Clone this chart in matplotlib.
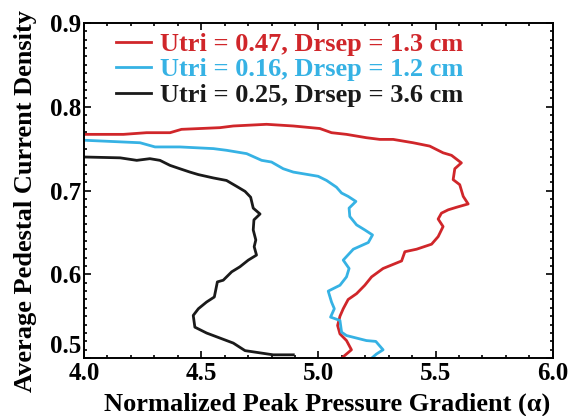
import matplotlib
matplotlib.use("Agg")
import matplotlib.pyplot as plt
from matplotlib.ticker import MultipleLocator, FormatStrFormatter

plt.rcParams['font.family'] = ['Liberation Serif', 'DejaVu Serif']
plt.rcParams['font.weight'] = 'bold'

red_x = [4.000, 4.168, 4.267, 4.367, 4.416, 4.580, 4.637, 4.779, 4.893, 5.006, 5.056, 5.120,
         5.205, 5.262, 5.319, 5.404, 5.475, 5.532, 5.568, 5.610, 5.582, 5.575, 5.603, 5.618,
         5.639, 5.589, 5.554, 5.525, 5.511, 5.532, 5.511, 5.483, 5.419, 5.369, 5.355, 5.276,
         5.227, 5.198, 5.163, 5.127, 5.106, 5.092, 5.082, 5.092, 5.120, 5.141, 5.120, 5.099]
red_y = [0.767, 0.767, 0.769, 0.769, 0.773, 0.775, 0.777, 0.779, 0.777, 0.774, 0.769, 0.767,
         0.763, 0.761, 0.761, 0.757, 0.753, 0.745, 0.742, 0.733, 0.726, 0.713, 0.707, 0.693,
         0.684, 0.680, 0.677, 0.673, 0.666, 0.657, 0.645, 0.636, 0.630, 0.627, 0.616, 0.607,
         0.597, 0.587, 0.577, 0.570, 0.559, 0.550, 0.539, 0.529, 0.521, 0.510, 0.505, 0.500]

cyan_x = [4.000, 4.239, 4.303, 4.409, 4.552, 4.608, 4.694, 4.758, 4.800, 4.850, 4.893, 4.999,
          5.035, 5.077, 5.099, 5.127, 5.160, 5.131, 5.134, 5.163, 5.198, 5.231, 5.213, 5.149,
          5.106, 5.131, 5.120, 5.092, 5.042, 5.056, 5.068, 5.052, 5.092, 5.099, 5.120, 5.205,
          5.245, 5.276, 5.248, 5.227]
cyan_y = [0.760, 0.757, 0.752, 0.752, 0.750, 0.748, 0.744, 0.736, 0.734, 0.726, 0.722, 0.717,
          0.712, 0.704, 0.697, 0.693, 0.687, 0.679, 0.669, 0.659, 0.653, 0.647, 0.638, 0.630,
          0.617, 0.607, 0.597, 0.587, 0.580, 0.567, 0.559, 0.549, 0.545, 0.531, 0.527, 0.521,
          0.520, 0.510, 0.505, 0.500]

black_x = [4.000, 4.154, 4.225, 4.281, 4.324, 4.367, 4.409, 4.452, 4.488, 4.552, 4.608, 4.651,
           4.687, 4.711, 4.722, 4.751, 4.725, 4.722, 4.733, 4.726, 4.736, 4.701, 4.665, 4.630,
           4.594, 4.569, 4.556, 4.523, 4.488, 4.466, 4.473, 4.523, 4.580, 4.637, 4.687, 4.807,
           4.893]
black_y = [0.740, 0.739, 0.736, 0.738, 0.736, 0.730, 0.726, 0.722, 0.719, 0.715, 0.712, 0.705,
           0.699, 0.692, 0.679, 0.672, 0.665, 0.653, 0.641, 0.633, 0.623, 0.617, 0.609, 0.603,
           0.593, 0.591, 0.573, 0.567, 0.559, 0.551, 0.537, 0.530, 0.524, 0.518, 0.509, 0.504,
           0.504]

labels = ["Utri = 0.47, Drsep = 1.3 cm",
          "Utri = 0.16, Drsep = 1.2 cm",
          "Utri = 0.25, Drsep = 3.6 cm"]
colors = ["#d0262a", "#36b2e4", "#1a1a1a"]

fig = plt.figure(figsize=(5.77, 4.16), dpi=100)
ax = fig.add_axes([0.1456, 0.139, 0.8124, 0.806])

for xs, ys, lab, c in zip([red_x, cyan_x, black_x], [red_y, cyan_y, black_y], labels, colors):
    ax.plot(xs, ys, color=c, lw=2.0, label=lab)

ax.set_xlim(4.0, 6.0)
ax.set_ylim(0.5, 0.9)
ax.xaxis.set_major_locator(MultipleLocator(0.5))
ax.xaxis.set_minor_locator(MultipleLocator(0.1))
ax.yaxis.set_major_locator(MultipleLocator(0.1))
ax.yaxis.set_minor_locator(MultipleLocator(0.01))
ax.xaxis.set_major_formatter(FormatStrFormatter('%.1f'))
ax.yaxis.set_major_formatter(FormatStrFormatter('%.1f'))
ax.tick_params(which='both', direction='in', top=True, right=True, width=1.2, labelsize=18)
ax.tick_params(which='major', length=5)
ax.tick_params(which='minor', length=2.5)
ax.tick_params(axis='x', which='major', pad=3)
ax.tick_params(axis='y', which='major', pad=2)
for s in ax.spines.values():
    s.set_linewidth(1.4)

ax.set_xlabel("Normalized Peak Pressure Gradient (α)", fontsize=19, fontweight='bold')
ax.set_ylabel("Average Pedestal Current Density", fontsize=19, fontweight='bold')
ax.xaxis.set_label_coords(0.518, -0.102)
ax.yaxis.set_label_coords(-0.100, 0.47)

leg = ax.legend(loc='upper left', bbox_to_anchor=(0.068, 0.972), frameon=False, fontsize=19,
                handlelength=1.33, handletextpad=0.34, labelspacing=0.08,
                borderpad=0, borderaxespad=0)
for t, c in zip(leg.get_texts(), colors):
    t.set_color(c)
    t.set_fontweight('bold')

fig.canvas.draw()
ylabels = ax.get_yticklabels()
for lbl in ylabels:
    if lbl.get_text() == '0.5':
        lbl.set_verticalalignment('bottom')

fig.savefig("out.png", dpi=100)
